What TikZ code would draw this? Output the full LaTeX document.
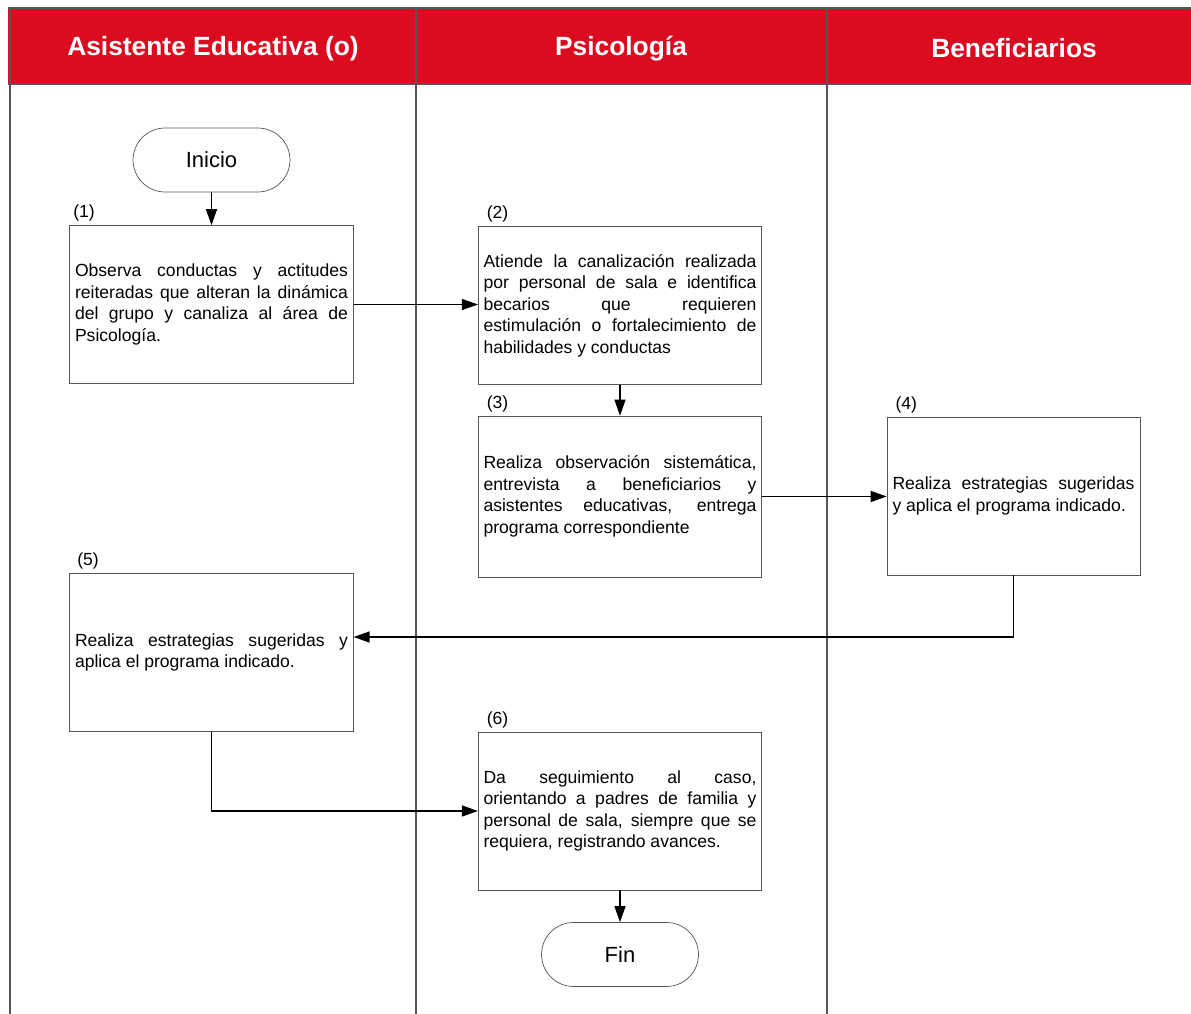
\documentclass[tikz,border=0pt]{standalone}
\usepackage{fontspec}
\setmainfont{Liberation Sans}
\usetikzlibrary{arrows.meta,positioning}
\definecolor{HeaderRed}{RGB}{220,12,32}
\definecolor{LaneGray}{RGB}{85,85,85}
\tikzset{
  stepbox/.style={draw=LaneGray, fill=white, minimum width=5.67cm, minimum height=3.16cm, text width=5.46cm, align=justify, inner sep=0pt, font=\fontsize{10}{12.2}\selectfont},
  stepnum/.style={anchor=south west, inner sep=2pt, font=\fontsize{10}{12}\selectfont},
  terminal/.style={draw=LaneGray, fill=white, rounded corners=0.64cm, minimum width=3.14cm, minimum height=1.28cm, font=\fontsize{12.5}{14}\selectfont},
  lanehead/.style={anchor=base, text=white, font=\fontsize{15}{18}\selectfont\bfseries},
  laneline/.style={draw=LaneGray, line width=0.6pt},
  flow/.style={-{Triangle[length=0.32cm,width=0.22cm]}, line width=0.7pt},
}
\begin{document}
\begin{tikzpicture}[x=0.02cm, y=-0.02cm]
      \useasboundingbox (0,0) rectangle (1191,1014);

      % lanes
      \fill[HeaderRed] (8,8) rectangle (1191,84);
      \draw[laneline] (8,8) -- (1191,8);
      \draw[laneline] (8,84) -- (1191,84);
      \draw[laneline] (10,8) -- (10,1014);
      \draw[laneline] (416,8) -- (416,1014);
      \draw[laneline] (827,8) -- (827,1014);
      \node[lanehead] (headAsis) at (213,55) {Asistente Educativa (o)};
      \node[lanehead] (headPsic) at (621,55) {Psicología};
      \node[lanehead] (headBene) at (1014,57) {Beneficiarios};

      % steps
      \node[terminal] (inicio) at (211.5,160) {Inicio};
      \node[stepbox] (box1) at (211.5,304.5) {Observa conductas y actitudes\linebreak reiteradas que alteran la dinámica\linebreak del grupo y canaliza al área de\linebreak Psicología.};
      \node[stepbox] (box2) at (620,305.5) {Atiende la canalización realizada\linebreak por personal de sala e identifica\linebreak becarios que requieren\linebreak estimulación o fortalecimiento de\linebreak habilidades y conductas};
      \node[stepbox, minimum height=3.22cm] (box3) at (620,496.5) {Realiza observación sistemática,\linebreak entrevista a beneficiarios y\linebreak asistentes educativas, entrega\linebreak programa correspondiente};
      \node[stepbox, minimum width=5.06cm, text width=4.84cm] (box4) at (1013.5,496) {Realiza estrategias sugeridas\linebreak y aplica el programa indicado.};
      \node[stepbox] (box5) at (211.5,652.5) {Realiza estrategias sugeridas y\linebreak aplica el programa indicado.};
      \node[stepbox] (box6) at (620,811) {Da seguimiento al caso,\linebreak orientando a padres de familia y\linebreak personal de sala, siempre que se\linebreak requiera, registrando avances.};
      \node[terminal] (fin) at (620,954.5) {Fin};

      \node[stepnum] (num1) at (box1.north west) {(1)};
      \node[stepnum] (num2) at ([xshift=0.1cm]box2.north west) {(2)};
      \node[stepnum] (num3) at ([xshift=0.1cm]box3.north west) {(3)};
      \node[stepnum] (num4) at ([xshift=0.1cm]box4.north west) {(4)};
      \node[stepnum] (num5) at ([xshift=0.08cm]box5.north west) {(5)};
      \node[stepnum] (num6) at ([xshift=0.1cm]box6.north west) {(6)};

      % connectors
      \draw[flow] (inicio) -- (box1);
      \draw[flow] (box1.east) -- (box2.west |- box1.east);
      \draw[flow] (box2) -- (box3);
      \draw[flow] (box3.east) -- (box4.west |- box3.east);
      \draw[flow] (box4.south) |- ([yshift=0.31cm]box5.east);
      \draw[flow] (box5.south) |- (box6.west);
      \draw[flow] (box6) -- (fin);
\end{tikzpicture}
\end{document}
